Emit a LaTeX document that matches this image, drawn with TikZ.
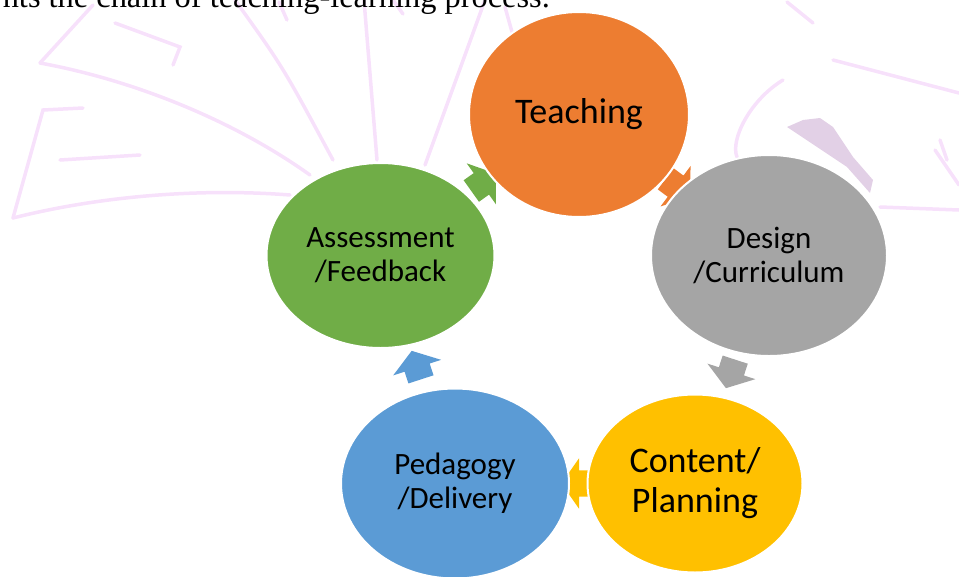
\documentclass[tikz,border=0pt]{standalone}
\usepackage{fontspec}
\setmainfont{Carlito}
\newfontfamily\bodyserif{Liberation Serif}
\usepackage{xcolor}
\usetikzlibrary{positioning,calc,shapes.geometric,shapes.arrows,backgrounds}

\definecolor{cteach}{HTML}{ED7D31}
\definecolor{cdesign}{HTML}{A5A5A5}
\definecolor{ccontent}{HTML}{FFC000}
\definecolor{cpedagogy}{HTML}{5B9BD5}
\definecolor{cassess}{HTML}{70AD47}
\definecolor{wmark}{RGB}{247,225,251}
\definecolor{wblob}{RGB}{226,208,230}

\begin{document}
\begin{tikzpicture}[x=1pt,y=-1pt,
    bubble/.style={ellipse, draw=white, line width=2pt, inner sep=0pt,
      align=center, text=black, on grid},
    bigtext/.style={font=\fontsize{36}{40}\selectfont},
    smalltext/.style={font=\fontsize{31}{34}\selectfont},
    cyclearrow/.style={single arrow, draw=none, inner sep=0pt, inner ysep=13pt,
      minimum height=30pt, single arrow head extend=12pt,
      single arrow tip angle=110},
    wm/.style={draw=wmark, line width=3.5pt, line cap=round}]
              \useasboundingbox (0,0) rectangle (959,576);

              \node[anchor=base east, inner sep=0pt,
                font=\bodyserif\fontsize{32.4}{36}\selectfont] (intro) at (550,7)
                {nts the chain of teaching-learning process.};

              \node[bubble, bigtext, fill=cteach, minimum width=220pt,
                minimum height=205pt] (teaching) at (579,114.5) {Teaching};
              \node[bubble, smalltext, fill=cdesign, minimum width=236pt,
                minimum height=201pt, below right=141pt and 190pt of teaching]
                (design) {Design\\/Curriculum};
              \node[bubble, bigtext, fill=ccontent, minimum width=215pt,
                minimum height=178pt, below left=228pt and 74pt of design]
                (content) {Content/\\Planning};
              \node[bubble, smalltext, fill=cpedagogy, minimum width=228pt,
                minimum height=190pt, left=240pt of content]
                (pedagogy) {Pedagogy\\/Delivery};
              \node[bubble, smalltext, fill=cassess, minimum width=228pt,
                minimum height=185pt, above left=228pt and 74.5pt of pedagogy]
                (assessment) {Assessment\\/Feedback};

              \begin{scope}[on background layer]
                % faint watermark
                \draw[wm] (13,218) -- (43,110) -- (83,108);
                \draw[wm] (13,218) .. controls (100,196) and (200,188) .. (290,195);
                \draw[wm] (40,63) .. controls (133,80) and (233,120) .. (310,175);
                \draw[wm] (40,63) -- (93,5);
                \draw[wm] (115,23) -- (180,47) -- (173,65);
                \draw[wm] (60,160) -- (140,155);
                \draw[wm] (235,0) .. controls (283,67) .. (333,160);
                \draw[wm] (364,0) -- (377,160);
                \draw[wm] (485,0) -- (425,165);
                \draw[wm] (279,2) -- (287,20);
                \draw[wm] (393,0) -- (403,14);
                \draw[wm] (505,7) -- (512,32);
                \draw[wm] (833,60) -- (959,93);
                \draw[wm] (783,80) .. controls (750,100) and (730,140) .. (737,157);
                \draw[wm] (880,207) -- (959,210);
                \draw[wm] (940,140) -- (947,160);
                \draw[wm] (787,2) -- (813,23);
                \draw[wm] (935,150) -- (959,185);
                \fill[wblob] (787,127) -- (803,120) -- (820,118) -- (833,127)
                  -- (853,157) -- (873,180) -- (870,193) -- (847,167) -- cycle;

                % arrows of the cycle
                \node[cyclearrow, fill=cassess, rotate=35.5]
                  (a1) at ($(assessment)!0.5!(teaching)$) {};
                \node[cyclearrow, fill=cteach, rotate=-36.6]
                  (a2) at ($(teaching)!0.5!(design)$) {};
                \node[cyclearrow, fill=cdesign, rotate=-108]
                  (a3) at ($(design)!0.5!(content)$) {};
                \node[cyclearrow, fill=ccontent, rotate=180]
                  (a4) at ($(content)!0.5!(pedagogy)+(6,0)$) {};
                \node[cyclearrow, fill=cpedagogy, rotate=108]
                  (a5) at ($(pedagogy)!0.5!(assessment)$) {};
              \end{scope}
            \end{tikzpicture}
\end{document}
